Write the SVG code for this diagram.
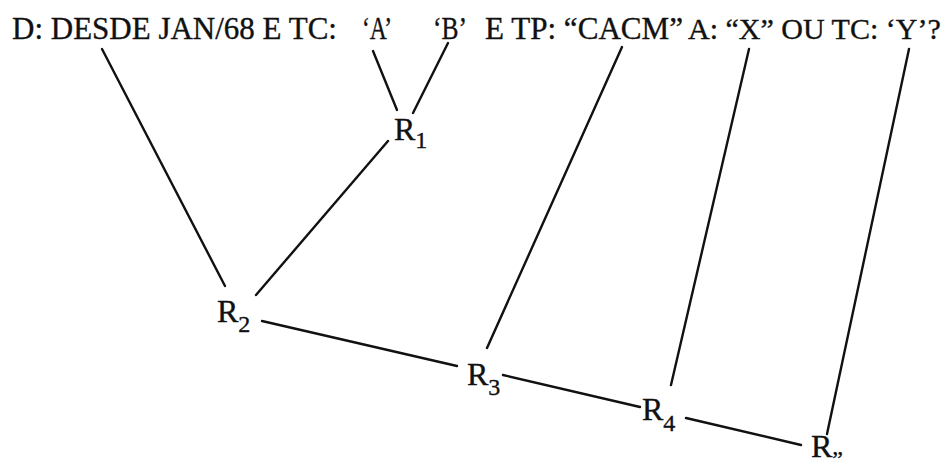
<svg xmlns="http://www.w3.org/2000/svg" width="951" height="465" viewBox="0 0 951 465">
<style>
text{font-family:"Liberation Serif","Times New Roman",serif;fill:#111;stroke:#111;stroke-width:0.35;}
.t{font-size:31px;}
.r{font-size:32px;}
.s{font-size:24px;}
#connectors line{stroke:#111;stroke-width:2.4;stroke-linecap:round;}
</style>
<rect width="951" height="465" fill="#fff"/>
<g id="header">
<text class="t" x="12" y="39" textLength="325" lengthAdjust="spacingAndGlyphs">D: DESDE JAN/68 E TC:</text>
<text class="t" x="362" y="39" textLength="30" lengthAdjust="spacingAndGlyphs">‘A’</text>
<text class="t" x="433" y="39" textLength="34" lengthAdjust="spacingAndGlyphs">‘B’</text>
<text class="t" x="485" y="39" textLength="198" lengthAdjust="spacingAndGlyphs">E TP: “CACM”</text>
<text x="688" y="39" style="font-size:30px">A: “X” OU TC: ‘Y’?</text>
</g>
<g id="connectors">
<line x1="102" y1="49" x2="225" y2="286"/>
<line x1="373" y1="51" x2="397" y2="110"/>
<line x1="448" y1="43" x2="413" y2="113"/>
<line x1="388" y1="141" x2="256" y2="295"/>
<line x1="262" y1="321" x2="457" y2="366"/>
<line x1="622" y1="47" x2="487" y2="348"/>
<line x1="503" y1="375" x2="640" y2="407"/>
<line x1="749" y1="49" x2="671" y2="385"/>
<line x1="686" y1="418" x2="801" y2="445"/>
<line x1="909" y1="49" x2="827" y2="434"/>
</g>
<g id="R1"><text class="r" x="394" y="140">R<tspan class="s" dy="8">1</tspan></text></g>
<g id="R2"><text class="r" x="217" y="322">R<tspan class="s" dy="10">2</tspan></text></g>
<g id="R3"><text class="r" x="467" y="385">R<tspan class="s" dy="10">3</tspan></text></g>
<g id="R4"><text class="r" x="642" y="420">R<tspan class="s" dy="11">4</tspan></text></g>
<g id="Rq"><text class="r" x="811" y="457">R<tspan class="s" dy="-3">„</tspan></text></g>
</svg>
